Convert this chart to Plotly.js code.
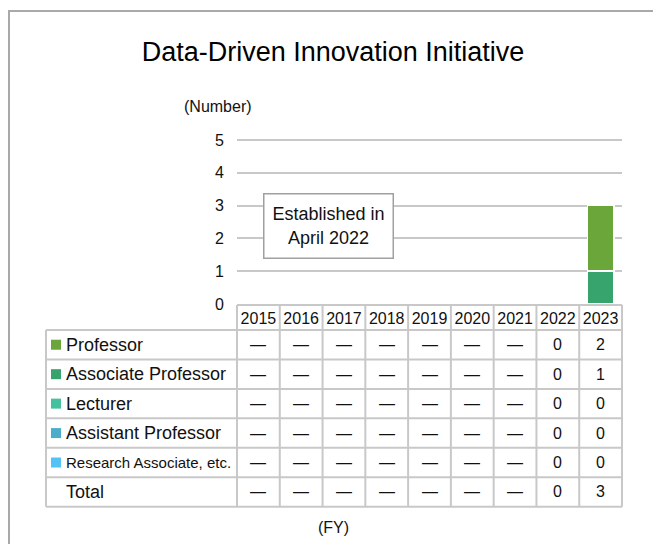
<!DOCTYPE html>
<html>
<head>
<meta charset="utf-8">
<script src="https://cdn.plot.ly/plotly-3.0.1.min.js"></script>
<style>
  body { margin: 0; background: #fff; }
  #myGraph { width: 653px; height: 544px; }
</style>
</head>
<body>
<div id="myGraph"></div>
<script>
// data (null = not established yet, shown as a dash)
let years = ['2015', '2016', '2017', '2018', '2019', '2020', '2021', '2022', '2023'];
let professor          = [null, null, null, null, null, null, null, 0, 2];
let associateProfessor = [null, null, null, null, null, null, null, 0, 1];
let lecturer           = [null, null, null, null, null, null, null, 0, 0];
let assistantProfessor = [null, null, null, null, null, null, null, 0, 0];
let researchAssociate  = [null, null, null, null, null, null, null, 0, 0];
let seriesNames = ['Professor', 'Associate Professor', 'Lecturer', 'Assistant Professor', 'Research Associate, etc.'];

let series = [professor, associateProfessor, lecturer, assistantProfessor, researchAssociate];
let colors = ['#6aa639', '#37a46d', '#45c19f', '#4badcb', '#53c3f5'];

// plot area in pixels (top a bit above the "5" gridline so that line gets drawn)
let PL = 237, PR = 622, PT = 138, PB = 304;
let yTop = 5 * (PB - PT) / (PB - 140);
function px(x) { return (x - PL) / (PR - PL); }
function py(y) { return (PB - y) / (PB - PT); }

let FONT = 'Liberation Sans, Arial, sans-serif';
let gridColor = '#c8c8c8';

// stacked bars, bottom series first
let data = [];
for (let i = series.length - 1; i >= 0; i--) {
    data.push({
        type: 'bar',
        name: seriesNames[i],
        x: years,
        y: series[i],
        width: 0.62,
        marker: { color: colors[i], line: { color: '#ffffff', width: 1.5 } },
        hoverinfo: 'skip',
        showlegend: false
    });
}

// table lines
let headTop = 305, headBot = 330, rowH = 29.45;
let tableLeft = 46;
let tableBot = headBot + rowH * 6;
let line = { color: gridColor, width: 2 };
let shapes = [];
// outer frame
shapes.push({ type: 'rect', xref: 'paper', yref: 'paper', x0: px(9), x1: px(720), y0: py(11), y1: py(620), line: { color: '#a9a9a9', width: 2 } });
shapes.push({ type: 'line', xref: 'paper', yref: 'paper', x0: 0, x1: 1, y0: py(headTop), y1: py(headTop), line: line });
for (let r = 0; r <= 6; r++) {
    let yy = headBot + rowH * r;
    shapes.push({ type: 'line', xref: 'paper', yref: 'paper', x0: px(tableLeft), x1: 1, y0: py(yy), y1: py(yy), line: line });
}
shapes.push({ type: 'line', xref: 'paper', yref: 'paper', x0: px(tableLeft), x1: px(tableLeft), y0: py(headBot), y1: py(tableBot), line: line });
for (let c = 0; c <= years.length; c++) {
    let xx = c / years.length;
    shapes.push({ type: 'line', xref: 'paper', yref: 'paper', x0: xx, x1: xx, y0: py(headTop), y1: py(tableBot), line: line });
}

let annotations = [];
// row labels with colour keys
for (let r = 0; r < 6; r++) {
    let yc = headBot + rowH * (r + 0.5);
    let label = r < 5 ? seriesNames[r] : 'Total';
    if (r < 5) {
        shapes.push({ type: 'rect', xref: 'paper', yref: 'paper', x0: px(51), x1: px(61), y0: py(yc - 5), y1: py(yc + 5), line: { width: 0 }, fillcolor: colors[r] });
    }
    annotations.push({
        xref: 'paper', yref: 'paper', x: px(64), y: py(yc), xanchor: 'left', yanchor: 'middle',
        text: label, showarrow: false,
        font: { family: FONT, size: r == 4 ? 15 : 18, color: '#111' }
    });
    // cells (x given as category index)
    for (let c = 0; c < years.length; c++) {
        let v;
        if (r < 5) {
            v = series[r][c];
        } else {
            let vals = series.map(s => s[c]).filter(x => x !== null);
            v = vals.length ? vals.reduce((a, b) => a + b, 0) : null;
        }
        annotations.push({
            xref: 'x', yref: 'paper', x: c, y: py(yc), xanchor: 'center', yanchor: 'middle',
            text: v === null ? '—' : String(v), showarrow: false,
            font: { family: FONT, size: 16, color: '#111' }
        });
    }
}

// note box
annotations.push({
    xref: 'paper', yref: 'paper', x: px(328), y: py(225.5), xanchor: 'center', yanchor: 'middle',
    text: 'Established in<br>April 2022', showarrow: false,
    font: { family: FONT, size: 18, color: '#111' },
    width: 128, height: 63, borderpad: 0, borderwidth: 1.5, bordercolor: '#a0a0a0', bgcolor: '#ffffff'
});
annotations.push({
    xref: 'paper', yref: 'paper', x: px(218), y: py(107), xanchor: 'center', yanchor: 'middle',
    text: '(Number)', showarrow: false, font: { family: FONT, size: 16, color: '#111' }
});
annotations.push({
    xref: 'paper', yref: 'paper', x: px(333), y: py(527), xanchor: 'center', yanchor: 'middle',
    text: '(FY)', showarrow: false, font: { family: FONT, size: 16, color: '#111' }
});

let layout = {
    width: 653,
    height: 544,
    margin: { l: PL, r: 653 - PR, t: PT, b: 544 - PB },
    paper_bgcolor: '#ffffff',
    plot_bgcolor: '#ffffff',
    barmode: 'stack',
    title: {
        text: 'Data-Driven Innovation Initiative',
        x: 333 / 653, xanchor: 'center',
        y: 1 - 52 / 544, yanchor: 'middle',
        font: { family: FONT, size: 27, color: '#000' }
    },
    xaxis: {
        type: 'category',
        range: [-0.5, years.length - 0.5],
        showgrid: false, zeroline: false, showline: false, ticks: '',
        tickfont: { family: FONT, size: 16, color: '#111' },
        ticklabelstandoff: 3
    },
    yaxis: {
        range: [0, yTop], dtick: 1,
        showgrid: true, gridcolor: gridColor, gridwidth: 2,
        zeroline: false, showline: false, ticks: '',
        tickfont: { family: FONT, size: 16, color: '#111' },
        ticklabelstandoff: 12
    },
    shapes: shapes,
    annotations: annotations,
    showlegend: false
};

Plotly.newPlot('myGraph', data, layout, { displayModeBar: false, staticPlot: true });
</script>
</body>
</html>
